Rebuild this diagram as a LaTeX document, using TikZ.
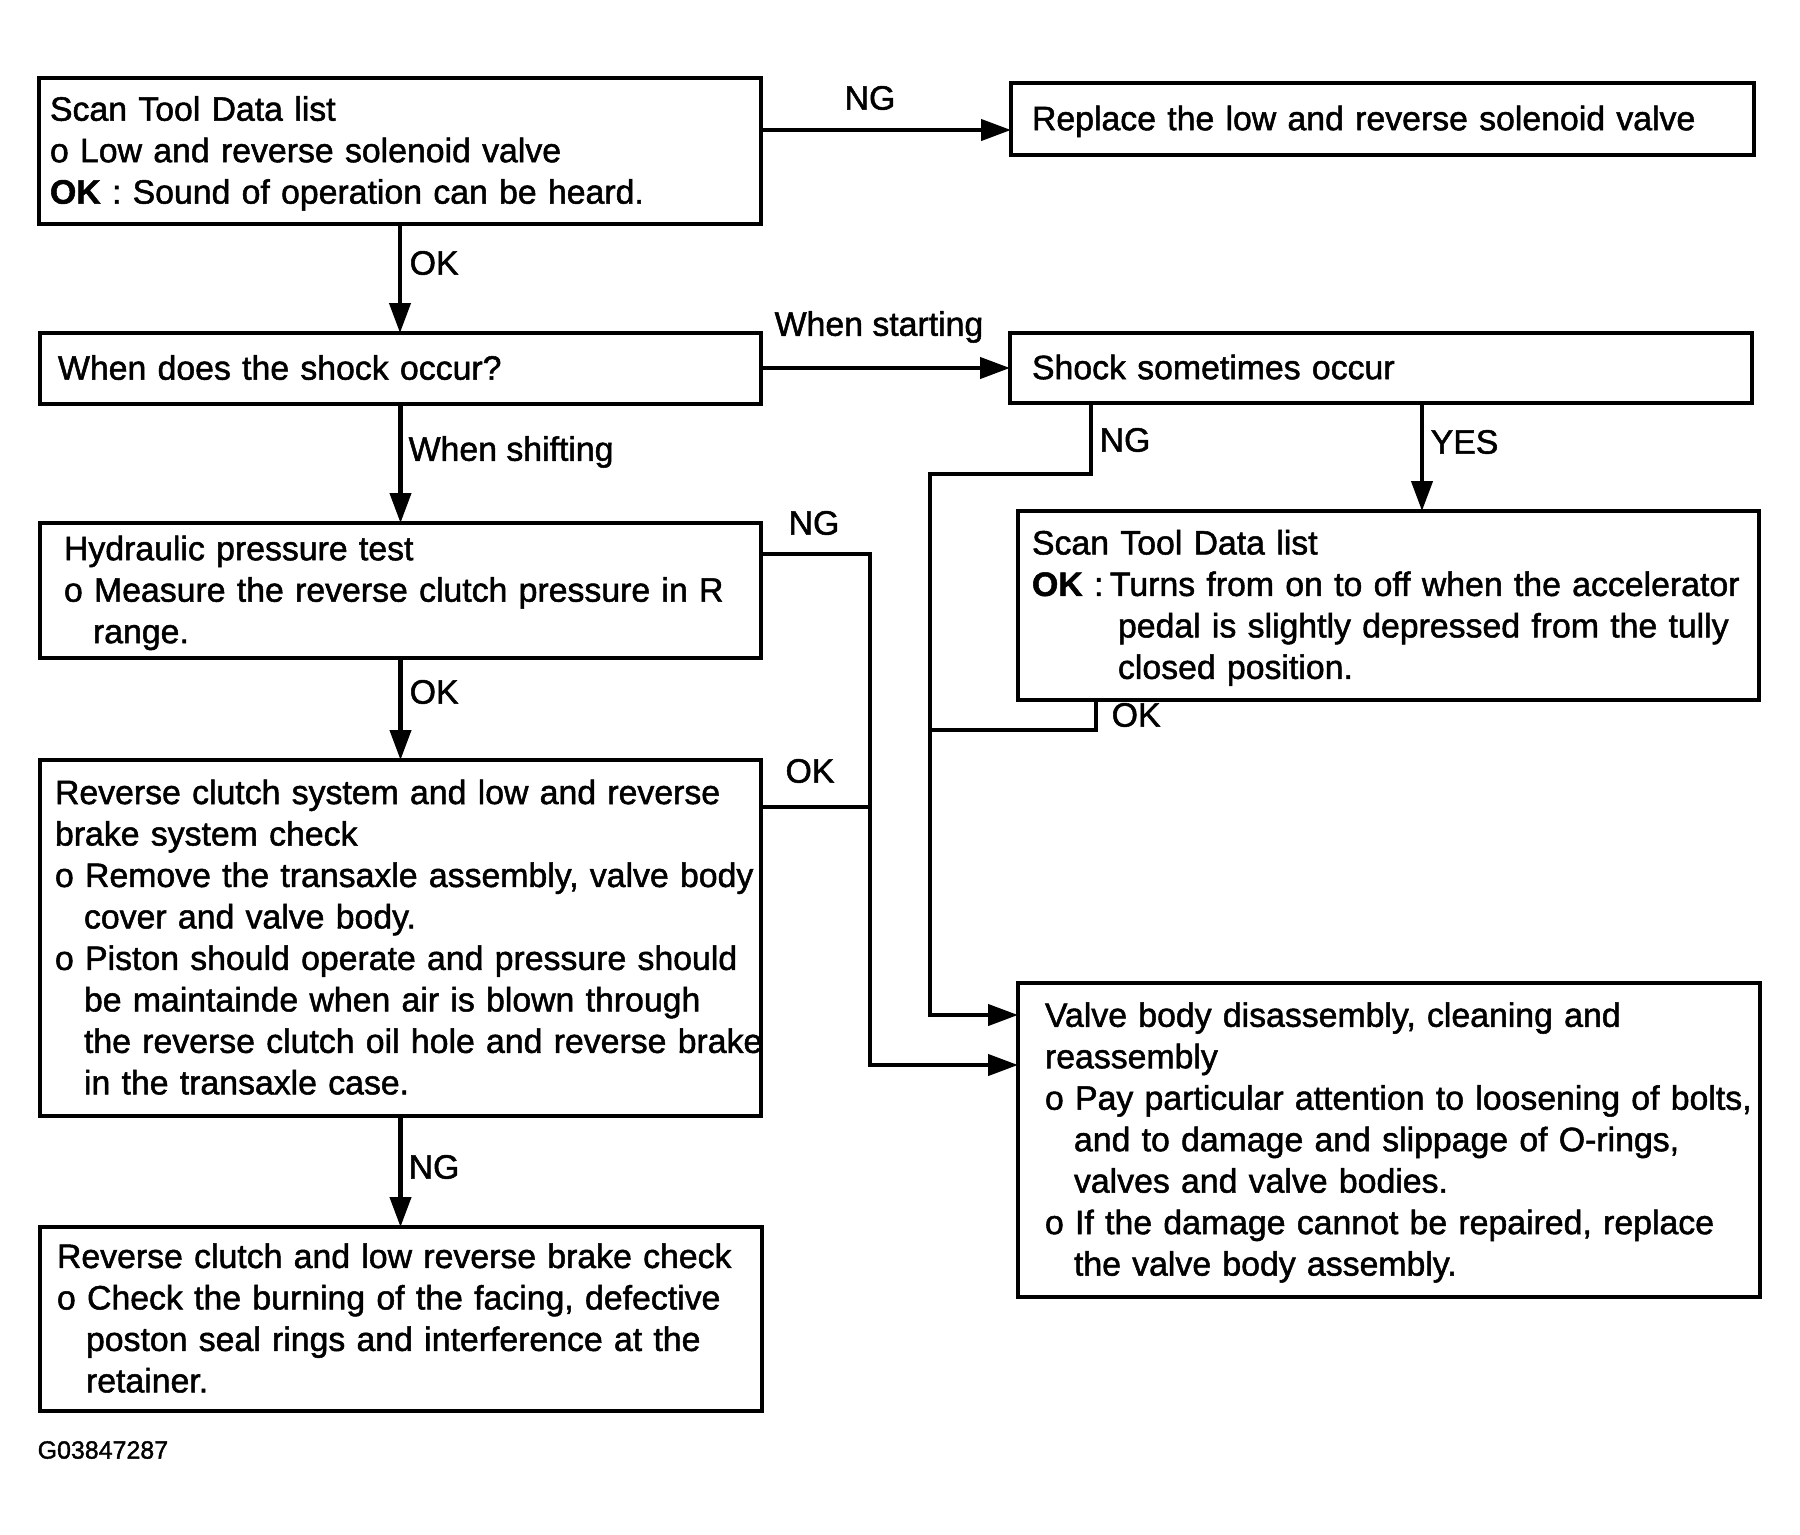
\documentclass[tikz,border=0pt]{standalone}
\usepackage{fontspec}
\setmainfont{Liberation Sans}[FakeBold=1.5]
\usetikzlibrary{arrows.meta}

\begin{document}
\begin{tikzpicture}[font=\fontsize{9.62pt}{11.8pt}\selectfont,
  box/.style={draw, line width=1.2pt, anchor=north west, inner ysep=0pt, outer sep=0pt,
    align=left, inner xsep=#1},
  arr/.style={line width=1.2pt, -{Triangle[length=3mm,width=2.1mm]}},
  wire/.style={line width=1.2pt},
  lab/.style={inner sep=0pt}]
\useasboundingbox (0,0) rectangle (18,-15.35);
\newcommand{\tb}[1]{\begin{tabular}{@{}l@{}}\rule{0pt}{9.9pt}#1\end{tabular}}
\newcommand{\hg}{\hspace*{0.29cm}}
% left column
\node[box=0.11cm, text width=7.00cm, minimum height=1.46cm] (sct1) at (0.39,-0.78) {\tb{Scan Tool Data list\\
  o Low and reverse solenoid valve\\ \textbf{OK} : Sound of operation can be heard.}};
\node[box=0.18cm, text width=6.85cm, minimum height=0.71cm] (when) at (0.40,-3.33) {\tb{When does the shock occur?}};
\node[box=0.24cm, text width=6.73cm, minimum height=1.35cm] (hyd) at (0.40,-5.23) {\tb{Hydraulic pressure test\\
  o Measure the reverse clutch pressure in R\\ \hg range.}};
\node[box=0.15cm, text width=6.91cm, minimum height=3.56cm] (rcs) at (0.40,-7.60) {\tb{Reverse clutch system and low and reverse\\
  brake system check\\ o Remove the transaxle assembly, valve body\\ \hg cover and valve body.\\
  o Piston should operate and pressure should\\ \hg be maintainde when air is blown through\\
  \hg the reverse clutch oil hole and reverse brake\\ \hg in the transaxle case.}};
\node[box=0.17cm, text width=6.88cm, minimum height=1.84cm] (rcl) at (0.40,-12.27) {\tb{Reverse clutch and low reverse brake check\\
  o Check the burning of the facing, defective\\ \hg poston seal rings and interference at the\\ \hg retainer.}};
% right column
\node[box=0.21cm, text width=7.01cm, minimum height=0.72cm] (rpl) at (10.11,-0.83) {\tb{Replace the low and reverse solenoid valve}};
\node[box=0.22cm, text width=6.98cm, minimum height=0.70cm] (shock) at (10.10,-3.33) {\tb{Shock sometimes occur}};
\node[box=0.14cm, text width=7.13cm, minimum height=1.89cm] (sct2) at (10.18,-5.11) {\tb{Scan Tool Data list\\
  \makebox[0.78cm][l]{\textbf{OK} :}Turns from on to off when the accelerator\\
  \hspace*{0.86cm}pedal is slightly depressed from the tully\\ \hspace*{0.86cm}closed position.}};
\node[box=0.27cm, text width=6.88cm, minimum height=3.14cm] (vb) at (10.18,-9.83) {\tb{Valve body disassembly, cleaning and\\
  reassembly\\ o Pay particular attention to loosening of bolts,\\ \hg and to damage and slippage of O-rings,\\
  \hg valves and valve bodies.\\ o If the damage cannot be repaired, replace\\ \hg the valve body assembly.}};
% labels
\node[lab] (ngA) at (8.70,-0.98) {NG};
\node[lab, anchor=west] (okA) at (4.09,-2.63) {OK};
\node[lab] (wst) at (8.79,-3.27) {When starting};
\node[lab, anchor=west] (wsh) at (4.08,-4.52) {When shifting};
\node[lab, anchor=west] (ngB) at (10.99,-4.40) {NG};
\node[lab, anchor=west] (yes) at (14.30,-4.42) {YES};
\node[lab] (ngC) at (8.14,-5.23) {NG};
\node[lab, anchor=west] (okB) at (4.09,-6.92) {OK};
\node[lab] (okC) at (8.10,-7.71) {OK};
\node[lab, anchor=west] (okD) at (11.11,-7.15) {OK};
\node[lab, anchor=west] (ngD) at (4.08,-11.67) {NG};
\node[lab, anchor=west, font=\fontsize{7.1pt}{8.5pt}\selectfont] (fig) at (0.37,-14.50) {G03847287};
% connectors
\coordinate (colL) at (9.30,0);
\coordinate (colR) at (8.70,0);
\coordinate (pA) at ([yshift=-5.2mm]sct1.north east);
\coordinate (vin1) at ([yshift=-3.2mm]vb.north west);
\coordinate (vin2) at ([yshift=-8.2mm]vb.north west);
\coordinate (sNG) at ([xshift=8.1mm]shock.south west);
\coordinate (sYES) at ([xshift=41.2mm]shock.south west);
\coordinate (s2OK) at ([xshift=7.8mm]sct2.south west);
\coordinate (hNG) at ([yshift=-3.1mm]hyd.north east);
\coordinate (rOK) at ([yshift=-4.7mm]rcs.north east);
\draw[arr] (pA) -- (pA -| rpl.west);
\draw[arr] (sct1.south) -- (sct1.south |- when.north);
\draw[arr] (when.east |- shock.west) -- (shock.west);
\draw[arr] (when.south) -- (when.south |- hyd.north);
\draw[arr] (hyd.south) -- (hyd.south |- rcs.north);
\draw[arr] (rcs.south) -- (rcs.south |- rcl.north);
\draw[arr] (sNG) -- ++(0,-0.71) -| (colL |- vin1) -- (vin1);
\draw[arr] (sYES) -- (sYES |- sct2.north);
\draw[wire] (s2OK) -- ++(0,-0.30) -- ++(-1.66,0);
\draw[arr] (hNG) -| (colR |- vin2) -- (vin2);
\draw[wire] (rOK) -- (rOK -| colR);
\end{tikzpicture}
\end{document}
